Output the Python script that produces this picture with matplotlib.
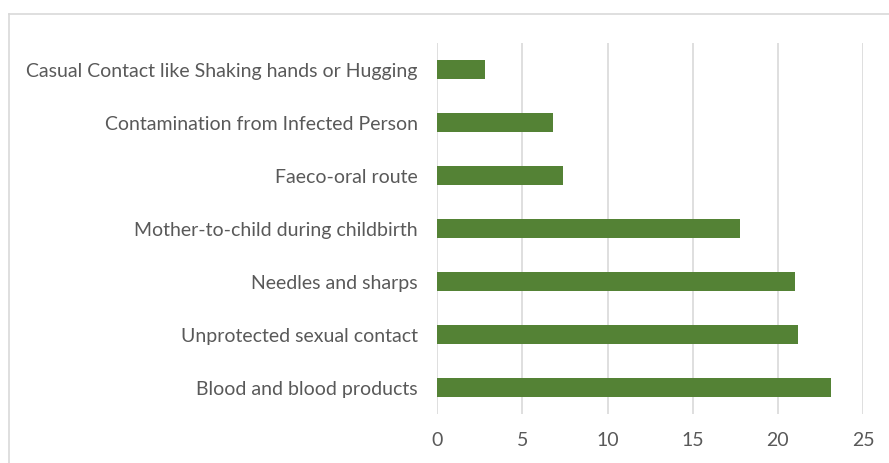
import matplotlib
matplotlib.use('Agg')
import matplotlib.pyplot as plt
from matplotlib.lines import Line2D

# Reported modes of transmission (counts)
routes = [
    'Casual Contact like Shaking hands or Hugging',
    'Contamination from Infected Person',
    'Faeco-oral route',
    'Mother-to-child during childbirth',
    'Needles and sharps',
    'Unprotected sexual contact',
    'Blood and blood products',
]
counts = [2.8, 6.8, 7.4, 17.8, 21.0, 21.2, 23.1]
x_ticks = [0, 5, 10, 15, 20, 25]

plt.rcParams['font.family'] = ['Lato', 'DejaVu Sans']

fig = plt.figure(figsize=(8.89, 4.63), dpi=100)
ax = fig.add_axes([437.3 / 889, 1 - 414 / 463, (863 - 437.3) / 889, (414 - 43) / 463])

ax.barh(range(len(routes)), counts, height=0.35, color='#548235', zorder=3)
ax.set_ylim(len(routes) - 0.5, -0.5)
ax.set_yticks(range(len(routes)))
ax.set_yticklabels(routes)
ax.set_xlim(0, 25)
ax.set_xticks(x_ticks)

ax.xaxis.grid(True, color='#d9d9d9', linewidth=1.2)
ax.set_axisbelow(True)
for s in ax.spines.values():
    s.set_visible(False)
ax.tick_params(axis='both', length=0, colors='#595959', labelsize=14)
ax.tick_params(axis='y', pad=14)
ax.tick_params(axis='x', pad=13)

# chart frame
fig.add_artist(Line2D([8.5 / 889, 8.5 / 889], [0, 1 - 13.5 / 463], color='#d9d9d9', lw=1.2))
fig.add_artist(Line2D([8.5 / 889, 1], [1 - 13.5 / 463, 1 - 13.5 / 463], color='#d9d9d9', lw=1.2))

fig.savefig('out.png', dpi=100)
